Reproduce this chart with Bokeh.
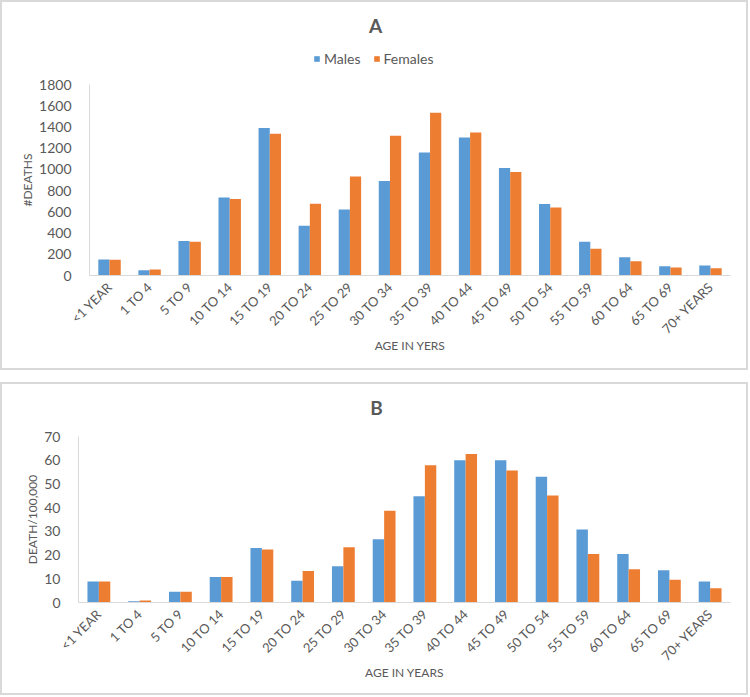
from bokeh.plotting import figure
from bokeh.models import (FactorRange, Range1d, FixedTicker, Legend, LegendItem, Label,
                          ColumnDataSource)
from bokeh.transform import dodge
from bokeh.layouts import column
from bokeh.embed import file_html
from bokeh.resources import INLINE
from math import pi

categories = ["<1 YEAR", "1 TO 4", "5 TO 9", "10 TO 14", "15 TO 19", "20 TO 24",
              "25 TO 29", "30 TO 34", "35 TO 39", "40 TO 44", "45 TO 49", "50 TO 54",
              "55 TO 59", "60 TO 64", "65 TO 69", "70+ YEARS"]

deaths_males = [150, 50, 324, 736, 1389, 468, 622, 890, 1160, 1301, 1012, 673, 318, 173, 88, 94]
deaths_females = [148, 57, 318, 720, 1336, 676, 934, 1317, 1534, 1348, 975, 641, 252, 135, 75, 69]

rate_males = [8.9, 0.5, 4.5, 10.8, 23.0, 9.2, 15.3, 26.7, 44.8, 60.0, 60.0, 53.0, 30.8, 20.4, 13.6, 8.9]
rate_females = [8.9, 0.8, 4.5, 10.8, 22.4, 13.3, 23.3, 38.7, 57.9, 62.6, 55.7, 45.1, 20.4, 14.0, 9.6, 6.0]

ticks_a = [0, 200, 400, 600, 800, 1000, 1200, 1400, 1600, 1800]
ticks_b = [0, 10, 20, 30, 40, 50, 60, 70]
series_names = ["Males", "Females"]

BLUE = "#5B9BD5"
ORANGE = "#ED7D31"
TXT = "#595959"
AXC = "#D9D9D9"
FONT = "Lato"
BORDER = {"border": "2px solid #D9D9D9"}
NAN = float("nan")


def header(title, height, title_x, legend_x):
    # the header's frame is aligned with the chart frame below it
    h = figure(width=744, height=height, x_range=Range1d(0, 1), y_range=Range1d(0, 1),
               output_backend="svg", toolbar_location=None, min_border=0)
    h.axis.visible = False
    h.grid.grid_line_color = None
    h.outline_line_color = None
    h.add_layout(Label(x=title_x, y=height - 23, x_units="screen", y_units="screen",
                       text=title, text_font=FONT, text_font_size="19px",
                       text_font_style="bold", text_color=TXT,
                       text_align="center", text_baseline="middle"))
    if legend_x is not None:
        dummy = ColumnDataSource(dict(x=[NAN], top=[NAN]))
        r1 = h.vbar(x="x", top="top", width=0.1, source=dummy, fill_color=BLUE, line_color=None)
        r2 = h.vbar(x="x", top="top", width=0.1, source=dummy, fill_color=ORANGE, line_color=None)
        lg = Legend(items=[LegendItem(label=series_names[0], renderers=[r1]),
                           LegendItem(label=series_names[1], renderers=[r2])],
                    orientation="horizontal", location=(legend_x, 5),
                    glyph_width=7, glyph_height=7, label_text_font=FONT,
                    label_text_font_size="14px", label_text_color=TXT,
                    border_line_color=None, background_fill_alpha=0,
                    padding=0, margin=0, spacing=12, label_standoff=4)
        h.add_layout(lg, "center")
    else:
        h.scatter(x=[NAN], y=[NAN], alpha=0)
    return h


def chart(males, females, ymax, ticks, ylabel, xlabel, height, bl, bb):
    src = ColumnDataSource(dict(cat=categories, m=males, f=females))
    p = figure(x_range=FactorRange(*categories), y_range=Range1d(0, ymax),
               width=744, height=height, output_backend="svg", toolbar_location=None,
               min_border_left=bl, min_border_right=16, min_border_top=12,
               min_border_bottom=bb)
    p.vbar(x=dodge("cat", -0.14, range=p.x_range), top="m", width=0.28,
           source=src, fill_color=BLUE, line_color=None)
    p.vbar(x=dodge("cat", 0.14, range=p.x_range), top="f", width=0.28,
           source=src, fill_color=ORANGE, line_color=None)
    p.outline_line_color = None
    p.grid.grid_line_color = None
    p.yaxis.ticker = FixedTicker(ticks=ticks)
    for ax in (p.xaxis[0], p.yaxis[0]):
        ax.axis_line_color = AXC
        ax.axis_line_width = 1
        ax.major_tick_line_color = None
        ax.minor_tick_line_color = None
        ax.major_label_text_color = TXT
        ax.major_label_text_font = FONT
        ax.axis_label_text_color = TXT
        ax.axis_label_text_font = FONT
        ax.axis_label_text_font_style = "normal"
        ax.axis_label_text_font_size = "12px"
    p.yaxis.major_label_text_font_size = "14px"
    p.yaxis.major_label_standoff = 12
    p.yaxis.axis_label = ylabel
    p.yaxis.axis_label_standoff = 1
    p.xaxis.major_label_text_font_size = "13px"
    p.xaxis.major_label_orientation = pi / 4
    p.xaxis.major_label_standoff = 3
    p.xaxis.axis_label = xlabel
    p.xaxis.axis_label_standoff = -7
    p.x_range.range_padding = 0
    return p


hA = header("A", 70, 286, 224)
pA = chart(deaths_males, deaths_females, 1800, ticks_a, "#DEATHS", "AGE IN YERS", 296, 87, 93)
hB = header("B", 40, 298, None)
pB = chart(rate_males, rate_females, 70, ticks_b, "DEATH/100,000", "AGE IN YEARS", 269, 76, 91)

colA = column(hA, pA, spacing=0, styles=BORDER)
colB = column(hB, pB, spacing=0, styles=BORDER)
layout = column(colA, colB, spacing=12)
open("out.html", "w").write(file_html(layout, INLINE))
